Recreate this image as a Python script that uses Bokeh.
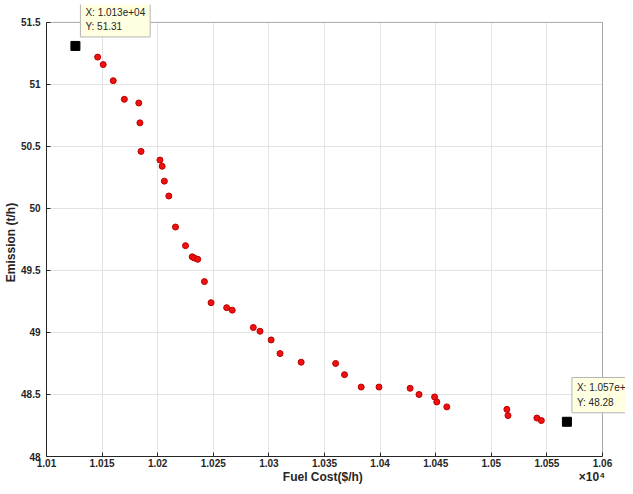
from bokeh.plotting import figure
from bokeh.models import Label, FixedTicker, Range1d, BoxAnnotation, Grid
from bokeh.embed import file_html
from bokeh.resources import INLINE

# Pareto front data (Fuel cost in $/h, emission in t/h)
fuel_cost = [10146, 10151, 10160, 10170, 10183, 10184, 10185, 10202, 10204, 10206,
             10210, 10216, 10225, 10231, 10233, 10236, 10242, 10248, 10262, 10267,
             10286, 10292, 10302, 10310, 10329, 10360, 10368, 10383, 10399, 10427,
             10435, 10449, 10451, 10460, 10514, 10515, 10541, 10545]
emission = [51.22, 51.16, 51.03, 50.88, 50.85, 50.69, 50.46, 50.39, 50.34, 50.22,
            50.10, 49.85, 49.70, 49.61, 49.60, 49.59, 49.41, 49.24, 49.20, 49.18,
            49.04, 49.01, 48.94, 48.83, 48.76, 48.75, 48.66, 48.56, 48.56, 48.55,
            48.50, 48.48, 48.44, 48.40, 48.38, 48.33, 48.31, 48.29]

# Extreme solutions (marked with data tips)
extreme_cost = [10126, 10568]
extreme_emission = [51.31, 48.28]

x_ticks = [10100, 10150, 10200, 10250, 10300, 10350, 10400, 10450, 10500, 10550, 10600]
x_tick_labels = ["1.01", "1.015", "1.02", "1.025", "1.03", "1.035", "1.04", "1.045", "1.05", "1.055", "1.06"]
y_ticks = [48, 48.5, 49, 49.5, 50, 50.5, 51, 51.5]
y_tick_labels = ["48", "48.5", "49", "49.5", "50", "50.5", "51", "51.5"]

FONT = "Liberation Sans"
DARK = "#262626"

# layout (pixels): axes box from x=46..602, y=22..459 on the canvas;
# the plotting frame is extended up/right so the data tips are not clipped
W, H = 625, 486
BOX_L, BOX_R, BOX_T, FRAME_T, BOTTOM = 46, 602, 22, 4, 27
x0, x1 = x_ticks[0], x_ticks[-1]
y0, y1 = y_ticks[0], y_ticks[-1]
px_x = (BOX_R - BOX_L) / (x1 - x0)
px_y = (H - BOTTOM - BOX_T) / (y1 - y0)
x_end = x1 + (W - BOX_R) / px_x
y_end = y1 + (BOX_T - FRAME_T) / px_y

p = figure(width=W, height=H, output_backend="svg", toolbar_location=None,
           x_range=Range1d(x0, x_end), y_range=Range1d(y0, y_end),
           min_border_left=BOX_L, min_border_right=0, min_border_top=FRAME_T,
           min_border_bottom=BOTTOM)
p.background_fill_color = "white"
p.border_fill_color = "white"
p.outline_line_color = None

for ax in p.xaxis + p.yaxis:
    ax.major_label_text_font = FONT
    ax.major_label_text_font_style = "bold"
    ax.major_label_text_font_size = "10px"
    ax.major_label_text_color = DARK
    ax.axis_label_text_font = FONT
    ax.axis_label_text_font_size = "12px"
    ax.axis_label_text_font_style = "bold"
    ax.axis_label_text_color = DARK
    ax.axis_line_color = DARK
    ax.major_tick_line_color = DARK
    ax.major_tick_in = 4
    ax.major_tick_out = 0
    ax.minor_tick_line_color = None

xa = p.below[0]
ya = p.left[0]
xa.ticker = FixedTicker(ticks=x_ticks)
xa.major_label_overrides = dict(zip(x_ticks, x_tick_labels))
xa.bounds = (x0, x1)
ya.ticker = FixedTicker(ticks=y_ticks)
ya.major_label_overrides = dict(zip(y_ticks, y_tick_labels))
ya.bounds = (y0, y1)
EM = "\u2003"
xa.axis_label = EM * 18 + "Fuel Cost($/h)" + EM * 18 + "×10⁴"
ya.axis_label = "Emission (t/h)" + EM * 2
xa.major_label_standoff = 2
xa.axis_label_standoff = 0
ya.major_label_standoff = 6
ya.axis_label_standoff = 0

has_cross = "cross_bounds" in Grid.properties()
for g, cb in ((p.xgrid[0], (y0, y1)), (p.ygrid[0], (x0, x1))):
    g.grid_line_color = "#e3e3e3"
    if has_cross:
        g.cross_bounds = cb
p.xgrid[0].bounds = (x0, x1)
p.ygrid[0].bounds = (y0, y1)
if not has_cross:
    p.xgrid[0].grid_line_color = None
    p.ygrid[0].grid_line_color = None
    p.segment(x0=x_ticks, y0=[y0] * len(x_ticks), x1=x_ticks, y1=[y1] * len(x_ticks),
              line_color="#e3e3e3", level="underlay")
    p.segment(x0=[x0] * len(y_ticks), y0=y_ticks, x1=[x1] * len(y_ticks), y1=y_ticks,
              line_color="#e3e3e3", level="underlay")

# axes box
p.add_layout(BoxAnnotation(left=x0, right=x1, bottom=y0, top=y1,
                           fill_alpha=0, line_color=DARK, line_width=1))

p.scatter(fuel_cost, emission, size=6, marker="circle",
          fill_color="#f01010", line_color="#b80000", line_width=1)
p.scatter(extreme_cost, extreme_emission, size=9, marker="square",
          fill_color="black", line_color="black")

for xc, ye in zip(extreme_cost, extreme_emission):
    txt = f"X: {xc:.3e}\nY: {ye:.2f}"
    p.add_layout(Label(x=xc, y=ye, x_offset=5, y_offset=9, text=txt,
                       anchor="bottom_left",
                       text_font=FONT, text_font_size="10px", text_color=DARK,
                       text_line_height=1.3,
                       background_fill_color="#ffffe1",
                       border_line_color="#b4b4b4", border_line_width=1,
                       padding=5))

open("out.html", "w").write(file_html(p, INLINE))
